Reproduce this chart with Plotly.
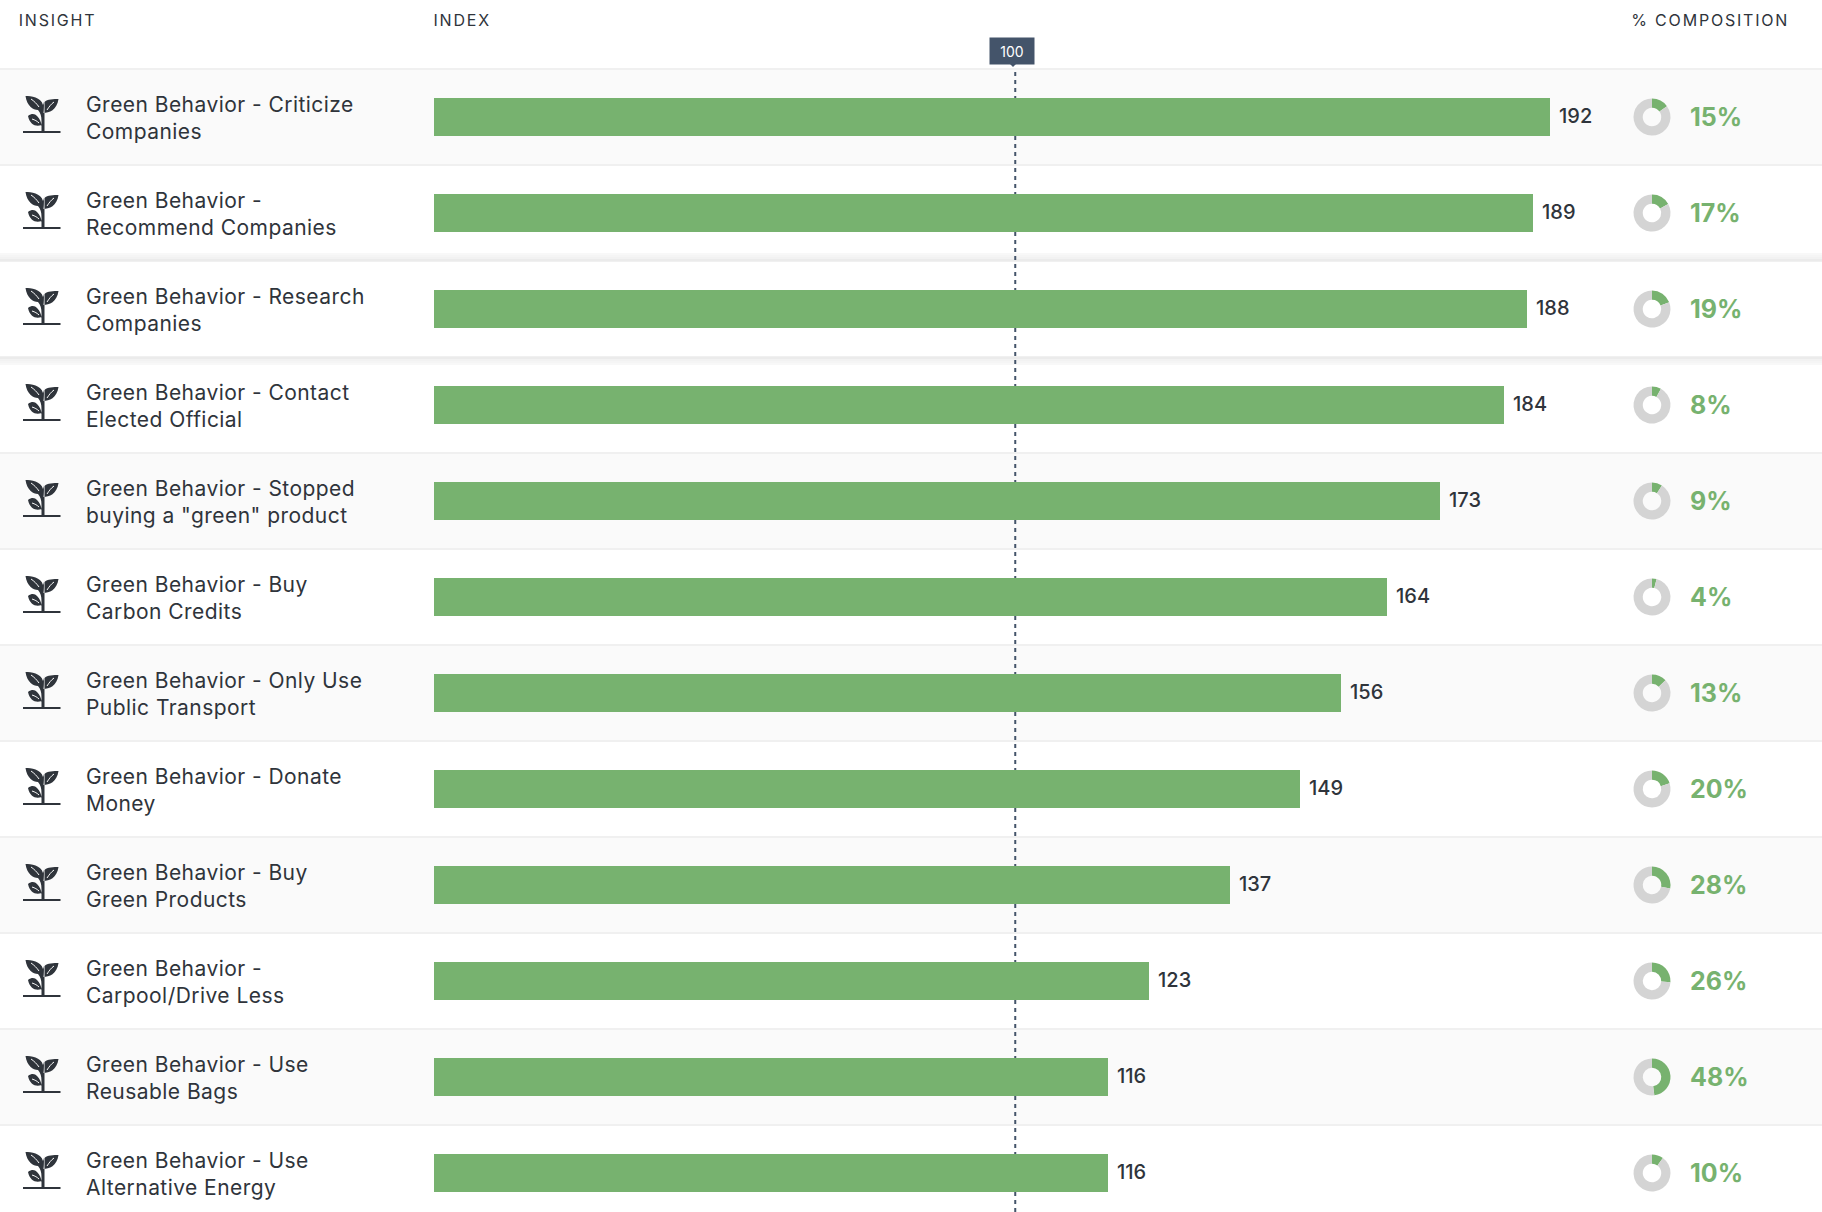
import plotly.graph_objects as go

W, H = 1822, 1212

insights = [
    "Green Behavior - Criticize<br>Companies",
    "Green Behavior -<br>Recommend Companies",
    "Green Behavior - Research<br>Companies",
    "Green Behavior - Contact<br>Elected Official",
    "Green Behavior - Stopped<br>buying a \"green\" product",
    "Green Behavior - Buy<br>Carbon Credits",
    "Green Behavior - Only Use<br>Public Transport",
    "Green Behavior - Donate<br>Money",
    "Green Behavior - Buy<br>Green Products",
    "Green Behavior -<br>Carpool/Drive Less",
    "Green Behavior - Use<br>Reusable Bags",
    "Green Behavior - Use<br>Alternative Energy",
]
index_values = [192, 189, 188, 184, 173, 164, 156, 149, 137, 123, 116, 116]
composition = [15, 17, 19, 8, 9, 4, 13, 20, 28, 26, 48, 10]
headers = ["INSIGHT", "INDEX", "% COMPOSITION"]

GREEN = "#77b26f"
DONUT_BG = "#d4d4d4"
DARK = "#2f343b"
TAG = "#44546a"
FONT = "Inter"

ROW_TOP = 69
ROW_H = 96
BAR_X0 = 434
PX_PER_UNIT = 5.8125

# plant icon, pixels from the row's top left corner (y goes up in pixel mode)
ICON = (
    "M23,-62 L60.5,-62 L60.5,-64 L23,-64 Z "
    "M41.5,-62 L41.5,-52 C41.5,-47 40.5,-44 38,-41 C33,-41 27,-37 25.5,-27 "
    "C31,-27 41,-28 43,-36 C44,-34 44.2,-32 44,-30 C44,-37 44,-41 43.5,-44 "
    "C49,-44 57,-41 58.5,-30 C54,-30 47,-30 44.5,-33 L44.5,-62 Z "
    "M28,-47 C32,-44 35,-45 37,-47 C40,-50 41,-53 41.5,-56 C36,-58 30,-56 28,-47 Z"
)
ICON_VEINS = "M31,-30 C34,-32 37,-35 39,-38 M54,-33 C51,-35 49,-38 47,-41 M32,-50 C35,-51 37,-52 39,-54"


def px(x):
    return x / W


def py(y):
    return 1 - y / H


def hline(y, color, width=2):
    return dict(type="line", xref="paper", yref="paper", x0=0, x1=1, y0=py(y), y1=py(y),
                line=dict(color=color, width=width), layer="below")


fig = go.Figure()

# row stripes
shapes = []
for i in range(len(insights)):
    top = ROW_TOP + i * ROW_H
    if i % 2 == 0 and i != 2:
        shapes.append(dict(type="rect", xref="paper", yref="paper", x0=0, x1=1,
                           y0=py(top), y1=py(top + ROW_H), fillcolor="#fafafa",
                           line_width=0, layer="below"))
for i in range(len(insights)):
    shapes.append(hline(ROW_TOP + i * ROW_H, "#f0f0f0"))

# raised row 3 has a soft shadow top and bottom
for y, c in [(254, "#f8f8f8"), (256, "#f5f5f5"), (258, "#f2f2f2"), (260, "#ebebeb"),
             (358, "#ebebeb"), (360, "#f2f2f2"), (362, "#f5f5f5"), (364, "#f8f8f8")]:
    shapes.append(hline(y, c, 2))

# reference line at 100
shapes.append(dict(type="line", xref="x", yref="paper", x0=100, x1=100, y0=py(72), y1=0,
                   line=dict(color=TAG, width=2, dash="4px,4px"), layer="below"))
# little pointer under the tag
shapes.append(dict(type="path", xref="paper", yref="paper",
                   path=f"M{px(1010)},{py(64)} L{px(1016)},{py(64)} L{px(1013)},{py(67)} Z",
                   fillcolor=TAG, line_width=0))

for i in range(len(insights)):
    top = ROW_TOP + i * ROW_H
    shapes.append(dict(type="path", xref="paper", yref="paper", xsizemode="pixel", ysizemode="pixel",
                       xanchor=0, yanchor=py(top), path=ICON, fillcolor=DARK, line_width=0))
    shapes.append(dict(type="path", xref="paper", yref="paper", xsizemode="pixel", ysizemode="pixel",
                       xanchor=0, yanchor=py(top), path=ICON_VEINS,
                       line=dict(color="#fafafa", width=1)))

fig.add_trace(go.Bar(
    x=index_values, y=insights, orientation="h", width=38 / ROW_H,
    marker_color=GREEN, marker_line_width=0, hoverinfo="skip", showlegend=False,
))

# composition donuts
for i, pct in enumerate(composition):
    cy = ROW_TOP + i * ROW_H + 48
    fig.add_trace(go.Pie(
        values=[pct, 100 - pct], hole=0.5, sort=False, direction="clockwise", rotation=0,
        marker=dict(colors=[GREEN, DONUT_BG], line_width=0), textinfo="none", hoverinfo="skip",
        showlegend=False,
        domain=dict(x=[px(1652 - 18.5), px(1652 + 18.5)], y=[py(cy + 18.5), py(cy - 18.5)]),
    ))

annotations = []
for text, x in zip(headers, [22.5, 435.5, 1641]):
    annotations.append(dict(text=text, xref="paper", yref="paper", x=px(x), y=py(20), xanchor="left",
                            yanchor="middle", showarrow=False, font=dict(family=FONT, size=16, color=DARK)))

annotations.append(dict(text="100", xref="x", yref="paper", x=100, y=py(51), xshift=-3, yanchor="middle",
                        showarrow=False, bgcolor=TAG, width=42, height=24,
                        font=dict(family=FONT, size=14, color="white")))

for i, name in enumerate(insights):
    annotations.append(dict(text=name, xref="paper", yref="y", x=px(83.7), y=name, xanchor="left", align="left",
                            yshift=-0.5, showarrow=False, font=dict(family=FONT, size=21, color=DARK)))
    annotations.append(dict(text=str(index_values[i]), xref="x", yref="y", x=index_values[i], y=name,
                            xanchor="left", xshift=7, yshift=1, showarrow=False,
                            font=dict(family=FONT, size=20, weight=500, color=DARK)))
    annotations.append(dict(text=f"{composition[i]}%", xref="paper", yref="y", x=px(1688), y=name,
                            xanchor="left", showarrow=False,
                            font=dict(family=FONT, size=25, weight=700, color=GREEN)))

fig.update_layout(
    width=W, height=H, margin=dict(l=0, r=0, t=0, b=0),
    paper_bgcolor="white", plot_bgcolor="rgba(0,0,0,0)",
    bargap=0, shapes=shapes, annotations=annotations,
    xaxis=dict(domain=[0, 1], range=[-BAR_X0 / PX_PER_UNIT, (W - BAR_X0) / PX_PER_UNIT],
               visible=False, fixedrange=True),
    yaxis=dict(domain=[0, 1], type="category", categoryorder="array", categoryarray=insights,
               range=[(H - ROW_TOP - 48) / ROW_H, -(ROW_TOP + 48) / ROW_H],
               visible=False, fixedrange=True),
)

# no page margin, and tracking on the text since plotly has no letter spacing option
post_script = """
document.body.style.margin = '0';
document.body.style.overflow = 'hidden';
document.querySelectorAll('.annotation-text').forEach(function (t) {
    var s = t.textContent;
    if (s === 'INSIGHT' || s === 'INDEX' || s === '% COMPOSITION') t.style.letterSpacing = '1.8px';
    else if (s.indexOf('Green Behavior') === 0) t.style.letterSpacing = '0.45px';
});
"""

fig.write_html("out.html", config=dict(displayModeBar=False), post_script=post_script)
